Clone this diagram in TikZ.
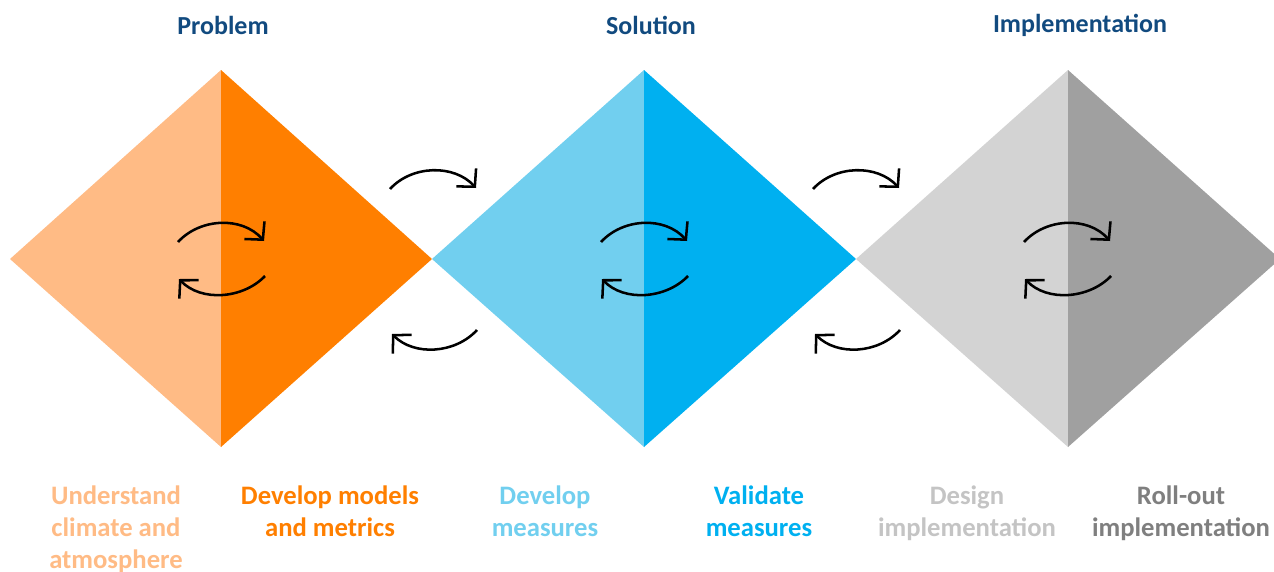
\documentclass[tikz,border=0pt]{standalone}
\usepackage{fontspec}
\setmainfont{Carlito}
\usetikzlibrary{arrows.meta}
\definecolor{lorange}{HTML}{FFBB85}
\definecolor{dorange}{HTML}{FF7F00}
\definecolor{lblue}{HTML}{71CFEF}
\definecolor{dblue}{HTML}{00B0F0}
\definecolor{lgrey}{HTML}{D3D3D3}
\definecolor{dgrey}{HTML}{A0A0A0}
\definecolor{lgreytext}{HTML}{C4C4C4}
\definecolor{dgreytext}{HTML}{7F7F7F}
\definecolor{titleblue}{HTML}{114A7F}
\tikzset{
  title/.style={font=\fontsize{19.5}{24}\selectfont\bfseries, text=titleblue, anchor=center},
  label/.style={font=\fontsize{20}{24}\selectfont\bfseries, align=center, anchor=north},
  cyc/.style={line width=1.9pt, -{Straight Barb[length=9.5pt,width=20pt]}},
}
\begin{document}
\begin{tikzpicture}[x=0.75pt,y=-0.75pt]
\useasboundingbox (0,0) rectangle (1274,571);
% diamonds
\fill[lorange] (221,70) -- (10,259) -- (221,447) -- cycle;
\fill[dorange] (221,70) -- (432,259) -- (221,447) -- cycle;
\fill[lblue] (644,70) -- (432,259) -- (644,447) -- cycle;
\fill[dblue] (644,70) -- (856,259) -- (644,447) -- cycle;
\fill[lgrey] (1068,70) -- (856,259) -- (1068,447) -- cycle;
\fill[dgrey] (1068,70) -- (1280,259) -- (1068,447) -- cycle;
% titles
\node[title] (t1) at (223,25) {Problem};
\node[title] (t2) at (651,25) {Solution};
\node[title] (t3) at (1080,25) {Implementation};
% labels
\node[label, text=lorange] (l1) at (116,481.5) {Understand\\climate and\\atmosphere};
\node[label, text=dorange] (l2) at (330,481.5) {Develop models\\and metrics};
\node[label, text=lblue] (l3) at (545,481.5) {Develop\\measures};
\node[label, text=dblue] (l4) at (759,481.5) {Validate\\measures};
\node[label, text=lgreytext] (l5) at (967,481.5) {Design\\implementation};
\node[label, text=dgreytext] (l6) at (1181,481.5) {Roll-out\\implementation};
% cycle arrows inside diamonds
\foreach \dx/\n in {0/a,423/b,846/c}{
  \coordinate (\n1) at (178+\dx,242);
  \coordinate (\n2) at (264+\dx,241);
  \coordinate (\n3) at (265+\dx,276);
  \coordinate (\n4) at (179+\dx,279);
  \draw[cyc] (\n1) .. controls +(22,-24) and +(-22,-25) .. (\n2);
  \draw[cyc] (\n3) .. controls +(-22,23) and +(22,23) .. (\n4);
}
% arrows between diamonds
\foreach \dx/\n in {0/p,423/q}{
  \coordinate (\n1) at (390+\dx,189);
  \coordinate (\n2) at (476+\dx,188);
  \coordinate (\n3) at (477+\dx,330);
  \coordinate (\n4) at (392+\dx,334);
  \draw[cyc] (\n1) .. controls +(22,-24) and +(-22,-24) .. (\n2);
  \draw[cyc] (\n3) .. controls +(-22,24) and +(22,22) .. (\n4);
}
\end{tikzpicture}
\end{document}
